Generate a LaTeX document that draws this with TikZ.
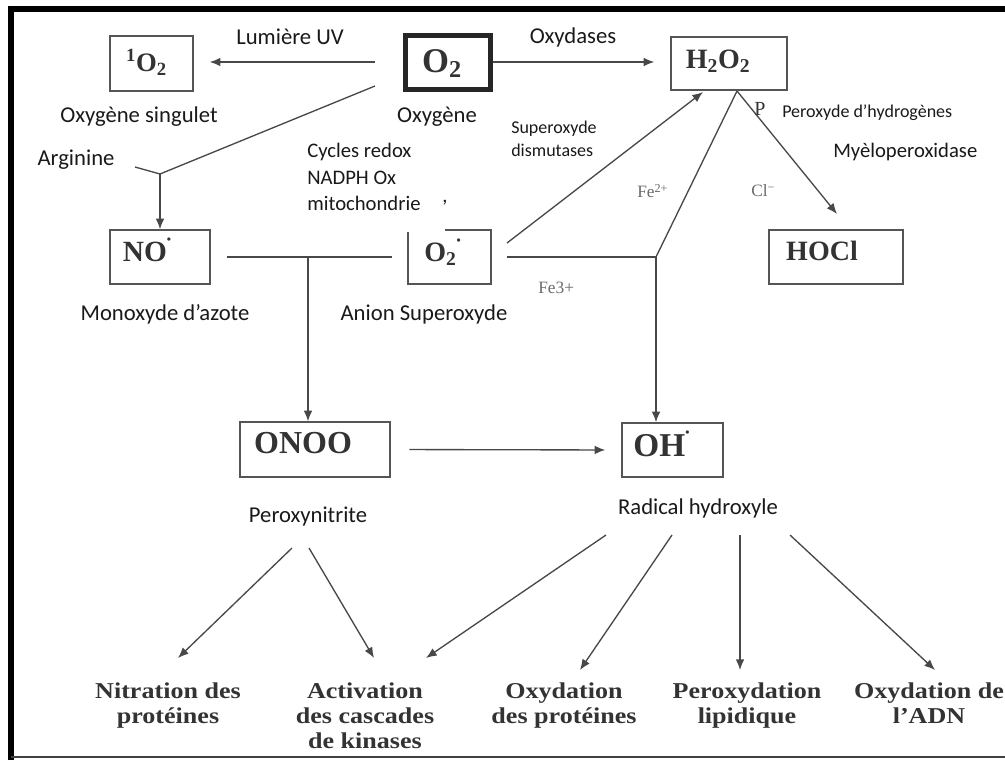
\documentclass[tikz,border=0pt]{standalone}
\usepackage{fontspec}
\setmainfont{Liberation Serif}
\newfontfamily\labfont{Carlito}
\newfontfamily\botfont[FakeStretch=1.15]{Liberation Serif}
\usetikzlibrary{arrows.meta,calc}
\definecolor{boxcol}{HTML}{555555}
\definecolor{txtcol}{HTML}{333333}
\definecolor{linecol}{HTML}{484848}
\definecolor{ionc}{HTML}{6a6a6a}
\newcommand\raddot{\raisebox{0.62em}{\fontsize{9}{9}\selectfont•}}
\tikzset{
  box/.style={draw=boxcol, line width=1.1pt, inner sep=0pt},
  boxline/.style={draw=boxcol, line width=1.1pt},
  boxtxt/.style={font=\bfseries\fontsize{20}{24}\selectfont, text=txtcol, inner sep=0pt},
  lab/.style={font=\labfont\fontsize{17}{20}\selectfont, text=black!90, inner sep=0pt},
  labm/.style={font=\labfont\fontsize{15.5}{19.9}\selectfont, text=black!90, inner sep=0pt, align=left},
  labs/.style={font=\labfont\fontsize{13.5}{17.25}\selectfont, text=black!90, inner sep=0pt, align=left},
  ion/.style={font=\fontsize{13}{15}\selectfont, text=ionc, inner sep=0pt},
  bot/.style={font=\botfont\bfseries\fontsize{17}{18.75}\selectfont, text=txtcol, inner sep=0pt, align=center, anchor=north},
  ln/.style={draw=linecol, line width=1pt},
  arr/.style={draw=linecol, line width=1pt, -{Latex[length=8pt,width=6.5pt]}},
}
\begin{document}
\begin{tikzpicture}[x=0.75pt,y=-0.75pt]
\useasboundingbox (0,0) rectangle (1005,760);
% frame
\draw[line width=4.5pt, black] (11,760) -- (11,9) -- (1005,9);
\draw[line width=1.5pt, black!75] (11,757) -- (1005,757);

% boxes
\node[box, minimum width=62.25pt, minimum height=41.25pt] (s1o2) at (151.5,63.5) {};
\node[boxtxt] (s1o2t) at ($(s1o2)+(-5,-1)$) {\textsuperscript{1}O\textsubscript{2}};

\node[box, draw=black!85, line width=3.75pt, minimum width=63.75pt, minimum height=40.5pt] (o2) at (448,62) {};
\node[boxtxt, font=\bfseries\fontsize{26}{30}\selectfont] (o2t) at ($(o2)+(-6,2)$) {O\textsubscript{2}};

\node[box, minimum width=87pt, minimum height=39.75pt] (h2o2) at (729,63.5) {};
\node[boxtxt, font=\bfseries\fontsize{21}{25}\selectfont] (h2o2t) at ($(h2o2)+(-11,-2)$) {H\textsubscript{2}O\textsubscript{2}};

\node[box, minimum width=75pt, minimum height=40.5pt] (no) at (160,257) {};
\node[boxtxt, font=\bfseries\fontsize{22}{26}\selectfont] (not) at ($(no)+(-13,-7)$) {NO\raddot};

\node[minimum width=62.25pt, minimum height=40.5pt, inner sep=0pt, outer sep=0pt] (o2r) at (449.5,257) {};
\draw[boxline] ($(o2r.north west)+(37,0)$) -- (o2r.north east) -- (o2r.south east) -- (o2r.south west) -- ($(o2r.north west)+(0,2)$);
\node[boxtxt, font=\bfseries\fontsize{21}{25}\selectfont] (o2rt) at ($(o2r)+(-7,-5)$) {O\textsubscript{2}\raddot};

\node[box, minimum width=100.5pt, minimum height=40.5pt] (hocl) at (836,257) {};
\node[boxtxt, font=\bfseries\fontsize{21}{25}\selectfont] (hoclt) at ($(hocl)+(-14,-6)$) {HOCl};

\node[box, minimum width=112.5pt, minimum height=41.25pt] (onoo) at (315,449.5) {};
\node[boxtxt, font=\bfseries\fontsize{24}{28}\selectfont] (onoot) at ($(onoo)+(-12,-6)$) {ONOO};

\node[box, minimum width=75.75pt, minimum height=40.5pt] (oh) at (672.5,450) {};
\node[boxtxt, font=\bfseries\fontsize{25}{29}\selectfont] (oht) at ($(oh)+(-11,-6)$) {OH\raddot};

% labels
\node[lab] (lumuv) at (290,37) {Lumière UV};
\node[lab] (oxs) at (139,117) {Oxygène singulet};
\node[lab] (oxy) at (437,117) {Oxygène};
\node[lab] (arg) at (76,160) {Arginine};
\node[labm, anchor=west] (cyc) at (307,177) {Cycles redox\\NADPH Ox\\mitochondrie};
\node[labm] (comma) at (445,203) {,};
\node[lab] (monox) at (165,314) {Monoxyde d’azote};
\node[lab] (anion) at (424,314) {Anion Superoxyde};
\node[lab] (oxyd) at (573,37) {Oxydases};
\node[labs, anchor=west] (sod) at (511,139) {Superoxyde\\dismutases};
\node[labs, anchor=west] (perh) at (782,113) {Peroxyde d’hydrogènes};
\node[labm, anchor=west] (myelo) at (833,152) {Myèloperoxidase};
\node[ion, anchor=west] (fe2) at (637,191) {Fe\textsuperscript{2+}};
\node[ion, anchor=west] (cl) at (751,191) {Cl\textsuperscript{−}};
\node[ion, anchor=west] (fe3) at (538,288) {Fe3+};
\node[lab] (peroxy) at (308,517) {Peroxynitrite};
\node[lab] (radical) at (698,508) {Radical hydroxyle};

\node[bot] (nitr) at (168,682) {Nitration des\\protéines};
\node[bot] (activ) at (365,682) {Activation\\des cascades\\de kinases};
\node[bot] (oxprot) at (564,682) {Oxydation\\des protéines};
\node[bot] (perox) at (747,682) {Peroxydation\\lipidique};
\node[bot] (oxadn) at (929,682) {Oxydation de\\l’ADN};

% junctions and free ends
\coordinate (o2d) at (375,86);
\coordinate (argS) at (135,167);
\coordinate (jarg) at (160,174);
\coordinate (jno) at (308,257);
\coordinate (sodS) at (507,243);
\coordinate (sodE) at (703,92);
\coordinate (hb) at (737,91);
\coordinate (jfe) at (656,257);
\coordinate (hoclT) at (837,214);
\coordinate (pn1) at (292,548);
\coordinate (pn2) at (309,548);
\coordinate (rh1) at (606,535);
\coordinate (rh2) at (672,535);
\coordinate (rh3) at (740,535);
\coordinate (rh4) at (790,535);
\coordinate (tnitr) at (178,658);
\coordinate (tact1) at (374,658);
\coordinate (tact2) at (426,658);
\coordinate (toxp) at (580,670);
\coordinate (tper) at (740,670);
\coordinate (tadn) at (935,670);

% connectors
\draw[arr, shorten <=21pt, shorten >=12pt] (o2.west) -- (s1o2.east |- o2.west);
\draw[arr, shorten >=12pt] (o2.east) -- (h2o2.west |- o2.east);
\draw[ln] (o2d) -- (jarg);
\draw[ln] (argS) -- (jarg);
\draw[arr] (jarg) -- (no.north);
\draw[ln] ($(no.east)+(16,0)$) -- ($(o2r.west)+(-16,0)$);
\draw[arr] (jno) -- (jno |- onoo.north);
\draw[arr] (sodS) -- (sodE);
\draw[ln] (hb) -- (jfe);
\draw[ln] ($(o2r.east)+(16,0)$) -- (jfe);
\draw[arr] (jfe) -- (jfe |- oh.north);
\draw[arr] (hb) -- (hoclT);
\node[font=\fontsize{15}{17}\selectfont, text=txtcol, inner sep=0pt] (pp) at (760,109) {P};
\draw[arr, shorten <=14pt, shorten >=12pt] (onoo.east) -- (oh.west);
\draw[arr] (pn1) -- (tnitr);
\draw[arr] (pn2) -- (tact1);
\draw[arr] (rh1) -- (tact2);
\draw[arr] (rh2) -- (toxp);
\draw[arr] (rh3) -- (tper);
\draw[arr] (rh4) -- (tadn);
\end{tikzpicture}
\end{document}
